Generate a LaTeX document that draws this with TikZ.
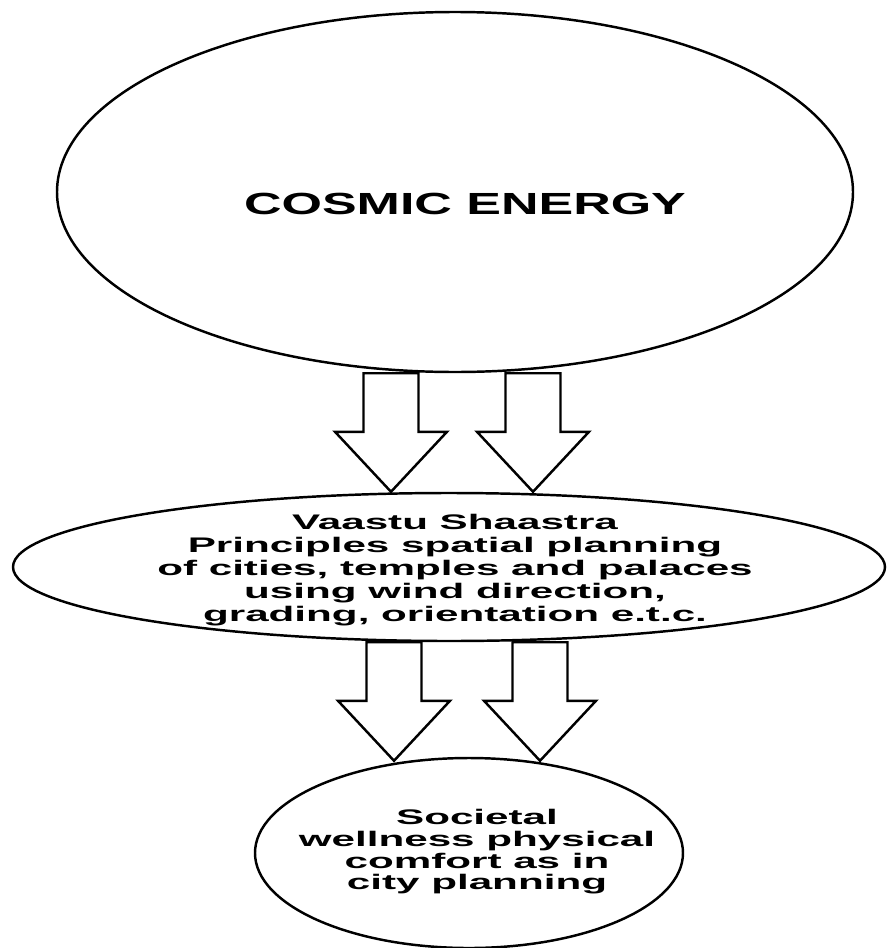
\documentclass[tikz,border=0pt]{standalone}
\usepackage{fontspec}
\setmainfont{Liberation Sans}
\newfontfamily\widefont[FakeStretch=2.0]{Liberation Sans}
\newfontfamily\bigwidefont[FakeStretch=1.7]{Liberation Sans}
\usetikzlibrary{calc,shapes.geometric}

% hollow block arrow from a start point down to a tip point
\newcommand{\fatarrow}[2]{%
  \draw[blockarrow] let \p1=(#1), \p2=(#2) in
    (\x1-0.55cm,\y1) -- (\x1+0.55cm,\y1) -- (\x1+0.55cm,\y2+1.2cm)
    -- (\x1+1.12cm,\y2+1.2cm) -- (\x1,\y2) -- (\x1-1.12cm,\y2+1.2cm)
    -- (\x1-0.55cm,\y2+1.2cm) -- cycle;}

\tikzset{
  bubble/.style={draw, ellipse, line width=1.4pt, inner sep=0pt},
  blockarrow/.style={draw, fill=white, line width=1.4pt, line join=miter},
  bigtext/.style={font=\bigwidefont\bfseries\fontsize{17.4}{20}\selectfont},
  smalltext/.style={align=center, font=\widefont\bfseries\fontsize{12}{13.2}\selectfont},
}

\begin{document}
\begin{tikzpicture}
  \useasboundingbox (0,0) rectangle (17.76,-18.96);

  \node[bubble, minimum width=15.92cm, minimum height=7.2cm] (cosmic) at (9.10,-3.84) {};
  \node[bubble, minimum width=17.44cm, minimum height=2.96cm] (vaastu) at (8.98,-11.34) {};
  \node[bubble, minimum width=8.56cm, minimum height=3.8cm] (societal) at (9.38,-17.06) {};

  \node[bigtext] (cosmic-label) at ($(cosmic)+(0.2,-0.24)$) {COSMIC ENERGY};
  \node[smalltext] (vaastu-label) at ($(vaastu)+(0.12,-0.06)$)
    {Vaastu Shaastra\\Principles spatial planning\\of cities, temples and palaces\\using wind direction,\\grading, orientation e.t.c.};
  \node[smalltext, font=\widefont\bfseries\fontsize{12}{12.3}\selectfont] (societal-label)
    at ($(societal)+(0.16,0.02)$) {Societal\\wellness physical\\comfort as in\\city planning};

  % arrows cosmic -> vaastu
  \coordinate (a1) at ($(cosmic.south)+(-1.28,0)$);
  \coordinate (a2) at ($(cosmic.south)+(1.56,0)$);
  \coordinate (a1tip) at (a1 |- vaastu.north);
  \coordinate (a2tip) at (a2 |- vaastu.north);
  \fatarrow{a1}{a1tip}
  \fatarrow{a2}{a2tip}

  % arrows vaastu -> societal
  \coordinate (b1) at ($(vaastu.south)+(-1.10,0)$);
  \coordinate (b2) at ($(vaastu.south)+(1.82,0)$);
  \coordinate (b1tip) at ($(b1 |- societal.north)+(0,-0.08)$);
  \coordinate (b2tip) at ($(b2 |- societal.north)+(0,-0.08)$);
  \fatarrow{b1}{b1tip}
  \fatarrow{b2}{b2tip}
\end{tikzpicture}
\end{document}
